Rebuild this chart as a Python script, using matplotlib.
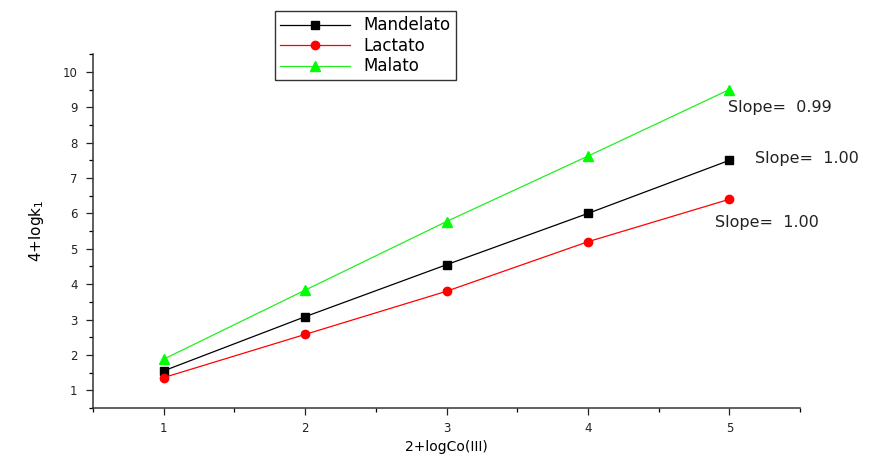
import numpy as np
import matplotlib.pyplot as plt
from matplotlib.ticker import MultipleLocator

plt.rcParams['font.family'] = ['DejaVu Sans']

# data
x_vals = [1, 2, 3, 4, 5]
mandelato = [1.55, 3.08, 4.55, 6.0, 7.5]
lactato = [1.36, 2.58, 3.8, 5.2, 6.4]
malato = [1.88, 3.83, 5.77, 7.62, 9.5]
series_names = ["Mandelato", "Lactato", "Malato"]
slope_labels = ["Slope=  0.99", "Slope=  1.00", "Slope=  1.00"]

fig = plt.figure(figsize=(8.93, 4.59), dpi=100)
ax = fig.add_axes([0.104, 0.111, 0.792, 0.771])

ax.plot(x_vals, mandelato, color='black', lw=0.9, marker='s', ms=5.5,
        label=series_names[0])
ax.plot(x_vals, lactato, color='red', lw=0.9, marker='o', ms=6,
        label=series_names[1])
ax.plot(x_vals, malato, color='#22ee22', lw=0.9, marker='^', ms=7.5,
        markerfacecolor='#00ff00', markeredgecolor='#00ff00',
        label=series_names[2])

ax.set_xlim(0.5, 5.5)
ax.set_ylim(0.5, 10.5)
ax.xaxis.set_major_locator(MultipleLocator(1))
ax.xaxis.set_minor_locator(MultipleLocator(0.5))
ax.yaxis.set_major_locator(MultipleLocator(1))
ax.yaxis.set_minor_locator(MultipleLocator(0.5))
ax.tick_params(which='major', direction='out', length=5, width=0.9,
               labelsize=8.5, colors='#222222')
ax.tick_params(which='minor', direction='out', length=3, width=0.9)
ax.tick_params(axis='x', pad=5)
ax.tick_params(axis='y', pad=6)

for side in ['top', 'right']:
    ax.spines[side].set_visible(False)
for side in ['left', 'bottom']:
    ax.spines[side].set_linewidth(1.1)
    ax.spines[side].set_color('#333333')

ax.set_xlabel("2+logCo(III)", fontsize=10, labelpad=4)
ax.set_ylabel("4+logk$_1$", fontsize=11, labelpad=12)

# slope annotations (malato, mandelato, lactato)
ax.text(x_vals[-1] - 0.01, malato[-1] - 0.5, slope_labels[0], fontsize=11.5,
        color='#222222', va='center', ha='left')
ax.text(x_vals[-1] + 0.18, mandelato[-1] + 0.05, slope_labels[1], fontsize=11.5,
        color='#222222', va='center', ha='left')
ax.text(x_vals[-1] - 0.1, lactato[-1] - 0.65, slope_labels[2], fontsize=11.5,
        color='#222222', va='center', ha='left')

leg = fig.legend(loc='upper left', bbox_to_anchor=(0.308, 0.975),
                 fontsize=12, frameon=True, fancybox=False, borderpad=0.3,
                 handlelength=4.2, labelspacing=0.15, handletextpad=0.8,
                 borderaxespad=0)
leg.get_frame().set_edgecolor('black')
leg.get_frame().set_linewidth(1.0)

fig.savefig("out.png", dpi=100)
